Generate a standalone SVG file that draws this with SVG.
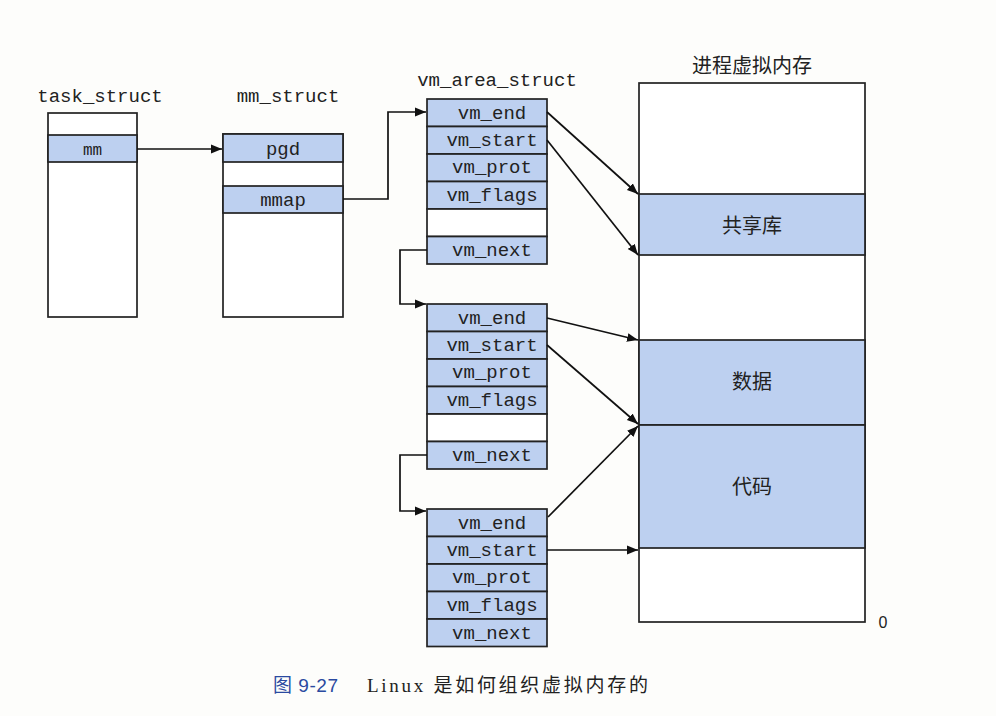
<svg xmlns="http://www.w3.org/2000/svg" width="996" height="716" viewBox="0 0 996 716">
<defs>
<marker id="ah" viewBox="0 0 10 10" refX="10" refY="5" markerWidth="11" markerHeight="11" markerUnits="userSpaceOnUse" orient="auto">
<path d="M0,1 L10,5 L0,9 Z" fill="#111"/>
</marker>
</defs>
<style>
.box{fill:#ffffff;stroke:#222;stroke-width:1.7}
.fld{fill:#bdd0f0;stroke:#222;stroke-width:1.7}
.mono{font-family:"Liberation Mono","DejaVu Sans Mono",monospace;font-size:19px;fill:#222;text-anchor:middle}
.cjk{font-family:"Noto Sans CJK SC","Noto Sans",sans-serif;font-size:20px;fill:#222;text-anchor:middle}
.line{fill:none;stroke:#111;stroke-width:1.7}
.cap{font-family:"Liberation Serif","Noto Sans CJK SC",serif;font-size:19px;fill:#222}
</style>
<rect width="996" height="716" fill="#fdfdfb"/>

<g id="task_struct">
<text class="mono" x="100" y="102">task_struct</text>
<rect class="box" x="48" y="113" width="89" height="204"/>
<rect class="fld" x="48" y="135" width="89" height="27"/>
<text class="mono" x="92.5" y="155" style="font-size:16px">mm</text>
</g>

<g id="mm_struct">
<text class="mono" x="288" y="102">mm_struct</text>
<rect class="box" x="223" y="134" width="120" height="183"/>
<rect class="fld" x="223" y="134" width="120" height="28"/>
<text class="mono" x="283" y="155">pgd</text>
<rect class="fld" x="223" y="186" width="120" height="27"/>
<text class="mono" x="283" y="206">mmap</text>
</g>

<g id="vm_area_1">
<text class="mono" x="497" y="86">vm_area_struct</text>
<rect class="fld" x="427" y="99" width="120" height="27.5"/>
<rect class="fld" x="427" y="126.5" width="120" height="27.5"/>
<rect class="fld" x="427" y="154" width="120" height="27.5"/>
<rect class="fld" x="427" y="181.5" width="120" height="27.5"/>
<rect class="box" x="427" y="209" width="120" height="27.5"/>
<rect class="fld" x="427" y="236.5" width="120" height="27.5"/>
<text class="mono" x="492" y="119">vm_end</text>
<text class="mono" x="492" y="146">vm_start</text>
<text class="mono" x="492" y="173">vm_prot</text>
<text class="mono" x="492" y="201">vm_flags</text>
<text class="mono" x="492" y="256">vm_next</text>
</g>

<g id="vm_area_2">
<rect class="fld" x="427" y="304" width="120" height="27.5"/>
<rect class="fld" x="427" y="331.5" width="120" height="27.5"/>
<rect class="fld" x="427" y="359" width="120" height="27.5"/>
<rect class="fld" x="427" y="386.5" width="120" height="27.5"/>
<rect class="box" x="427" y="414" width="120" height="27.5"/>
<rect class="fld" x="427" y="441.5" width="120" height="27.5"/>
<text class="mono" x="492" y="324">vm_end</text>
<text class="mono" x="492" y="351">vm_start</text>
<text class="mono" x="492" y="378">vm_prot</text>
<text class="mono" x="492" y="406">vm_flags</text>
<text class="mono" x="492" y="461">vm_next</text>
</g>

<g id="vm_area_3">
<rect class="fld" x="427" y="509" width="120" height="27.5"/>
<rect class="fld" x="427" y="536.5" width="120" height="27.5"/>
<rect class="fld" x="427" y="564" width="120" height="27.5"/>
<rect class="fld" x="427" y="591.5" width="120" height="27.5"/>
<rect class="fld" x="427" y="619" width="120" height="27.5"/>
<text class="mono" x="492" y="529">vm_end</text>
<text class="mono" x="492" y="556">vm_start</text>
<text class="mono" x="492" y="583">vm_prot</text>
<text class="mono" x="492" y="611">vm_flags</text>
<text class="mono" x="492" y="639">vm_next</text>
</g>

<g id="virtual_memory">
<text class="cjk" x="752" y="73">进程虚拟内存</text>
<rect class="box" x="639" y="83" width="226" height="539"/>
<rect class="fld" x="639" y="194" width="226" height="61"/>
<rect class="fld" x="639" y="340" width="226" height="85"/>
<rect class="fld" x="639" y="425" width="226" height="123"/>
<text class="cjk" x="752" y="233">共享库</text>
<text class="cjk" x="752" y="389">数据</text>
<text class="cjk" x="752" y="494">代码</text>
<text x="883" y="628" style="font-family:'Liberation Sans',sans-serif;font-size:16px;fill:#222;text-anchor:middle">0</text>
</g>

<g id="connectors">
<path class="line" d="M137,149 L222,149" marker-end="url(#ah)"/>
<path class="line" d="M343,199 L388,199 L388,112 L426,112" marker-end="url(#ah)"/>
<path class="line" d="M427,250 L400,250 L400,304 L426,304" marker-end="url(#ah)"/>
<path class="line" d="M427,455 L400,455 L400,511 L426,511" marker-end="url(#ah)"/>
<path class="line" d="M547,112 L638,194" marker-end="url(#ah)"/>
<path class="line" d="M547,140 L638,255" marker-end="url(#ah)"/>
<path class="line" d="M547,318 L638,340" marker-end="url(#ah)"/>
<path class="line" d="M547,345 L638,424" marker-end="url(#ah)"/>
<path class="line" d="M548,517 L638,426" marker-end="url(#ah)"/>
<path class="line" d="M547,550 L638,550" marker-end="url(#ah)"/>
</g>

<g id="caption">
<text class="cap" x="273" y="692" textLength="65" lengthAdjust="spacing" style="fill:#2a4aa0;font-family:'Liberation Sans','Noto Sans CJK SC',sans-serif">图 9-27</text>
<text class="cap" x="367" y="692" textLength="281" lengthAdjust="spacing">Linux 是如何组织虚拟内存的</text>
</g>
</svg>
